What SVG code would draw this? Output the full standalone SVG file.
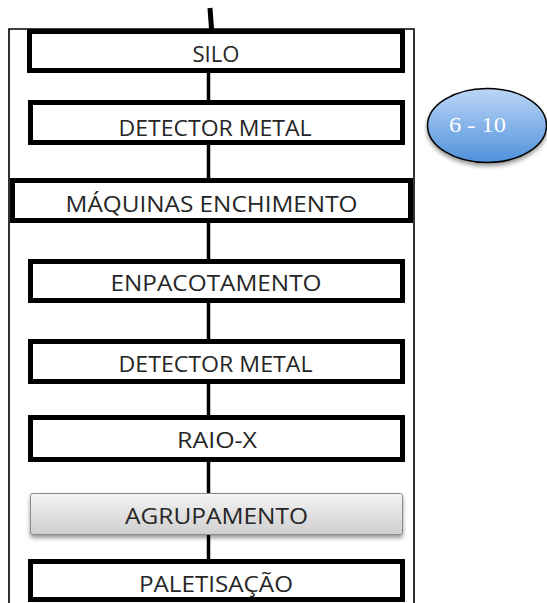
<svg xmlns="http://www.w3.org/2000/svg" width="547" height="603" viewBox="0 0 547 603">
  <style>
    .box { fill: #ffffff; stroke: #000000; stroke-width: 5; }
    .lbl { font-family: "Open Sans", "Liberation Sans", sans-serif; font-size: 21px; fill: #262626; text-anchor: middle; }
    .conn { stroke: #000000; stroke-width: 3.5; fill: none; }
    .frame { stroke: #000000; stroke-width: 1.6; fill: none; }
  </style>
  <defs>
    <linearGradient id="gray" x1="0" y1="0" x2="0" y2="1">
      <stop offset="0" stop-color="#f4f4f4"/>
      <stop offset="1" stop-color="#cfcfcf"/>
    </linearGradient>
    <linearGradient id="blue" x1="0" y1="0" x2="0" y2="1">
      <stop offset="0" stop-color="#bcd6f6"/>
      <stop offset="1" stop-color="#4f91dc"/>
    </linearGradient>
    <filter id="shadow" x="-20%" y="-20%" width="140%" height="160%">
      <feGaussianBlur in="SourceAlpha" stdDeviation="2"/>
      <feOffset dx="0" dy="3" result="b"/>
      <feComponentTransfer><feFuncA type="linear" slope="0.4"/></feComponentTransfer>
      <feMerge><feMergeNode/><feMergeNode in="SourceGraphic"/></feMerge>
    </filter>
  </defs>

  <path class="frame" d="M9,603 V29 H414 V603"/>

  <g id="connectors">
    <line x1="210" y1="8" x2="211.5" y2="29" stroke="#000" stroke-width="5"/>
    <line class="conn" x1="208.5" y1="73" x2="208.5" y2="100"/>
    <line class="conn" x1="208.5" y1="145" x2="208.5" y2="178"/>
    <line class="conn" x1="208.5" y1="223" x2="208.5" y2="259"/>
    <line class="conn" x1="208.5" y1="303" x2="208.5" y2="339"/>
    <line class="conn" x1="208.5" y1="384" x2="208.5" y2="415"/>
    <line class="conn" x1="208.5" y1="462" x2="208.5" y2="493"/>
    <line class="conn" x1="208.5" y1="535" x2="208.5" y2="559"/>
  </g>

  <g id="silo">
    <rect class="box" x="29.5" y="31.5" width="373" height="39"/>
    <text class="lbl" x="216" y="62" textLength="47" lengthAdjust="spacingAndGlyphs">SILO</text>
  </g>
  <g id="detector1">
    <rect class="box" x="30.5" y="102.5" width="372" height="40"/>
    <text class="lbl" x="215" y="136" textLength="193" lengthAdjust="spacingAndGlyphs">DETECTOR METAL</text>
  </g>
  <g id="maquinas">
    <rect class="box" x="12.5" y="180.5" width="398" height="40"/>
    <text class="lbl" x="211.5" y="212" textLength="292" lengthAdjust="spacingAndGlyphs">MÁQUINAS ENCHIMENTO</text>
  </g>
  <g id="enpacotamento">
    <rect class="box" x="30.5" y="261.5" width="372" height="39"/>
    <text class="lbl" x="216" y="291" textLength="211" lengthAdjust="spacingAndGlyphs">ENPACOTAMENTO</text>
  </g>
  <g id="detector2">
    <rect class="box" x="30.5" y="341.5" width="372" height="40"/>
    <text class="lbl" x="215.5" y="372" textLength="194" lengthAdjust="spacingAndGlyphs">DETECTOR METAL</text>
  </g>
  <g id="raiox">
    <rect class="box" x="30.5" y="417.5" width="372" height="42"/>
    <text class="lbl" x="217" y="448" textLength="80" lengthAdjust="spacingAndGlyphs">RAIO-X</text>
  </g>
  <g id="agrupamento">
    <rect x="30.5" y="493.5" width="372" height="41" rx="2" fill="url(#gray)" stroke="#8a8a8a" stroke-width="1" filter="url(#shadow)"/>
    <text class="lbl" x="216.5" y="524" textLength="183" lengthAdjust="spacingAndGlyphs">AGRUPAMENTO</text>
  </g>
  <g id="paletisacao">
    <rect class="box" x="30.5" y="561.5" width="372" height="38"/>
    <text class="lbl" x="216" y="592" textLength="154" lengthAdjust="spacingAndGlyphs">PALETISAÇÃO</text>
  </g>

  <g id="badge">
    <ellipse cx="487" cy="125.5" rx="59.5" ry="37" fill="url(#blue)" stroke="#000" stroke-width="1.5" filter="url(#shadow)"/>
    <text x="477.5" y="132" font-family="'Liberation Serif', serif" font-size="22" fill="#ffffff" text-anchor="middle" textLength="57" lengthAdjust="spacingAndGlyphs">6 - 10</text>
  </g>
</svg>
